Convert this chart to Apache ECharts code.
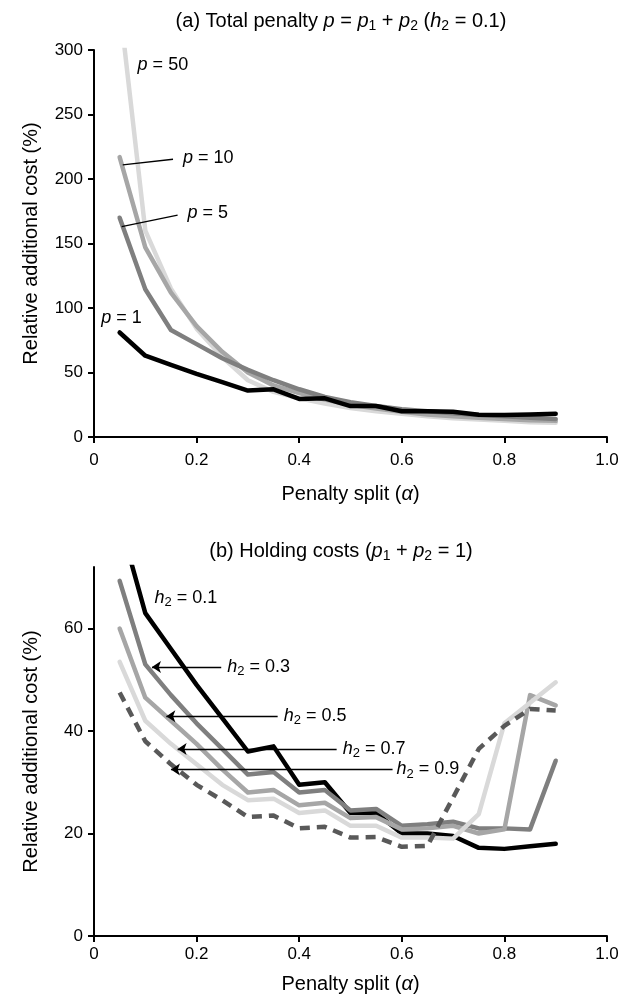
<!DOCTYPE html>
<html>
<head>
<meta charset="utf-8">
<script src="https://cdn.jsdelivr.net/npm/echarts@6/dist/echarts.min.js"></script>
<style>
html, body { margin: 0; padding: 0; background: #fff; }
#main { width: 631px; height: 997px; }
</style>
</head>
<body>
<div id="main"></div>
<script>
"use strict";

// penalty split alpha (x values, both panels)
var alpha = [0.05, 0.1, 0.15, 0.2, 0.25, 0.3, 0.35, 0.4, 0.45, 0.5, 0.55, 0.6, 0.65, 0.7, 0.75, 0.8, 0.85, 0.9];

// (a) total penalty p, h2 = 0.1  (p = 1 is the same curve as h2 = 0.1 in (b))
var costP1  = [81, 63, 56, 49, 42.5, 36, 37, 29.5, 30, 24, 24, 20, 20, 19.5, 17.2, 17, 17.5, 18];
var costP5  = [170, 114.5, 83, 72, 61, 52, 44, 37, 31, 27, 24, 21.5, 20, 18.5, 17, 16, 15, 14];
var costP10 = [217, 147, 112, 86, 66, 50, 40, 34, 29, 25, 22, 19.5, 17.5, 16, 15, 14, 13, 12.5];
var costP50 = [335, 160, 115, 84, 62, 44, 35, 30, 26, 22.5, 20, 18, 16, 14.5, 13.5, 12.5, 11.5, 11];

// (b) holding costs, p1 + p2 = 1
var costH01 = costP1;
var costH03 = [69.3, 53, 47, 41.5, 36.5, 31.5, 32, 28, 28.5, 24.5, 24.8, 21.5, 21.8, 22.3, 21, 21, 20.8, 34.2];
var costH05 = [60, 46.5, 42, 37.5, 32.5, 28, 28.5, 25.5, 26, 23, 23.2, 20.8, 21, 21.5, 20, 20.8, 47, 45];
var costH07 = [53.5, 42, 37.5, 33.5, 29.5, 26.5, 26.8, 24, 24.5, 21.5, 21.5, 19.2, 19.2, 19, 23.8, 41.5, 45.5, 49.5];
var costH09 = [47.5, 38, 33.5, 29.5, 26.5, 23.2, 23.5, 21, 21.3, 19.2, 19.3, 17.4, 17.6, 27, 36.5, 41, 44.3, 44];

var yTicksB = [0, 20, 40, 60];

var FONT = "'Liberation Sans', Arial, Helvetica, sans-serif";

// n = normal, i = italic, s = subscript (pushed down with top padding)
function rich(size) {
    var sub = Math.round(size * 0.7);
    var pad = Math.round(size * 0.5);
    return {
        n: { fontFamily: FONT, fontSize: size, fontWeight: 'normal', color: '#000', lineHeight: size + 6 },
        i: { fontFamily: FONT, fontSize: size, fontWeight: 'normal', fontStyle: 'italic', color: '#000', lineHeight: size + 6 },
        s: { fontFamily: FONT, fontSize: sub, fontWeight: 'normal', color: '#000', lineHeight: sub, padding: [pad, 0, 0, 0] }
    };
}

function pts(vals) {
    return alpha.map(function(a, i) { return [a, vals[i]]; });
}

// leader line: from the text side (start) to the curve (end)
function leader(from, to, text, arrow, dist) {
    return {
        silent: true,
        animation: false,
        symbol: ['none', arrow ? 'arrow' : 'none'],
        symbolSize: 9,
        itemStyle: { color: '#000' },
        lineStyle: { color: '#000', width: 1.3, type: 'solid' },
        emphasis: { disabled: true },
        label: { show: true, position: 'start', distance: dist, formatter: text, rich: rich(18) },
        data: [[{ coord: from }, { coord: to }]]
    };
}

function tag(at, text) {
    return {
        silent: true,
        animation: false,
        symbol: 'circle',
        symbolSize: 0,
        emphasis: { disabled: true },
        label: { show: true, position: 'right', distance: 0, formatter: text, rich: rich(18) },
        data: [{ coord: at }]
    };
}

function line(idx, vals, color, extra) {
    var s = {
        type: 'line',
        xAxisIndex: idx,
        yAxisIndex: idx,
        data: pts(vals),
        showSymbol: false,
        animation: false,
        lineStyle: { color: color, width: 4.5, cap: 'round', join: 'round' },
        itemStyle: { color: color },
        emphasis: { disabled: true }
    };
    return Object.assign(s, extra || {});
}

var axisCommon = {
    axisLine: { show: true, lineStyle: { color: '#000', width: 2 } },
    axisTick: { show: true, length: 6, lineStyle: { color: '#000', width: 2 } },
    splitLine: { show: false },
    axisLabel: { color: '#000', fontFamily: FONT, fontSize: 17 }
};

function xAxis(idx, margin, gap) {
    return Object.assign({}, axisCommon, {
        type: 'value', gridIndex: idx, min: 0, max: 1, interval: 0.2,
        name: '{n|Penalty split (}{i|\u03b1}{n|)}',
        nameLocation: 'middle', nameGap: gap,
        nameTextStyle: { rich: rich(20) },
        axisLabel: Object.assign({}, axisCommon.axisLabel, {
            margin: margin,
            formatter: function(v) { return v === 0 ? '0' : v.toFixed(1); }
        })
    });
}

var yName = {
    name: 'Relative additional cost (%)',
    nameLocation: 'middle', nameGap: 53,
    nameTextStyle: { color: '#000', fontFamily: FONT, fontSize: 20 }
};

var option = {
    backgroundColor: '#fff',
    title: [
        {
            text: '{n|(a) Total penalty }{i|p}{n| = }{i|p}{s|1}{n| + }{i|p}{s|2}{n| (}{i|h}{s|2}{n| = 0.1)}',
            left: 336, top: 3, textAlign: 'center',
            textStyle: { fontWeight: 'normal', rich: rich(20) }
        },
        {
            text: '{n|(b) Holding costs (}{i|p}{s|1}{n| + }{i|p}{s|2}{n| = 1)}',
            left: 336, top: 533, textAlign: 'center',
            textStyle: { fontWeight: 'normal', rich: rich(20) }
        }
    ],
    grid: [
        { left: 94, top: 50, width: 513, height: 387 },
        { left: 94, top: 567, width: 513, height: 369 }
    ],
    xAxis: [xAxis(0, 15, 44), xAxis(1, 10, 35)],
    yAxis: [
        Object.assign({}, axisCommon, yName, {
            type: 'value', gridIndex: 0, min: 0, max: 300, interval: 50,
            axisLabel: Object.assign({}, axisCommon.axisLabel, { margin: 11 })
        }),
        Object.assign({}, axisCommon, yName, {
            type: 'value', gridIndex: 1, min: 0, max: 72,
            axisTick: Object.assign({}, axisCommon.axisTick, { customValues: yTicksB }),
            axisLabel: Object.assign({}, axisCommon.axisLabel, { margin: 11, customValues: yTicksB })
        })
    ],
    series: [
        line(0, costP50, '#d9d9d9', { markPoint: tag([0.085, 288], '{i|p}{n| = 50}') }),
        line(0, costP10, '#a6a6a6', { markLine: leader([0.154, 215.3], [0.056, 210.9], '{i|p}{n| = 10}', false, 10) }),
        line(0, costP5, '#7f7f7f', { markLine: leader([0.163, 172], [0.054, 163], '{i|p}{n| = 5}', false, 10) }),
        line(0, costP1, '#000000', { markPoint: tag([0.014, 92], '{i|p}{n| = 1}') }),

        line(1, costH01, '#000000', { markPoint: tag([0.118, 66], '{i|h}{s|2}{n| = 0.1}') }),
        line(1, costH03, '#7f7f7f', { markLine: leader([0.248, 52.5], [0.113, 52.5], '{i|h}{s|2}{n| = 0.3}', true, 6) }),
        line(1, costH05, '#a6a6a6', { markLine: leader([0.358, 42.9], [0.141, 42.9], '{i|h}{s|2}{n| = 0.5}', true, 6) }),
        line(1, costH07, '#d9d9d9', { markLine: leader([0.473, 36.5], [0.163, 36.5], '{i|h}{s|2}{n| = 0.7}', true, 6) }),
        line(1, costH09, '#595959', {
            lineStyle: { color: '#595959', width: 4.5, type: [10, 7], cap: 'butt' },
            markLine: leader([0.582, 32.5], [0.15, 32.5], '{i|h}{s|2}{n| = 0.9}', true, 4)
        })
    ]
};

var myChart = echarts.init(document.getElementById('main'));
myChart.setOption(option);
</script>
</body>
</html>
